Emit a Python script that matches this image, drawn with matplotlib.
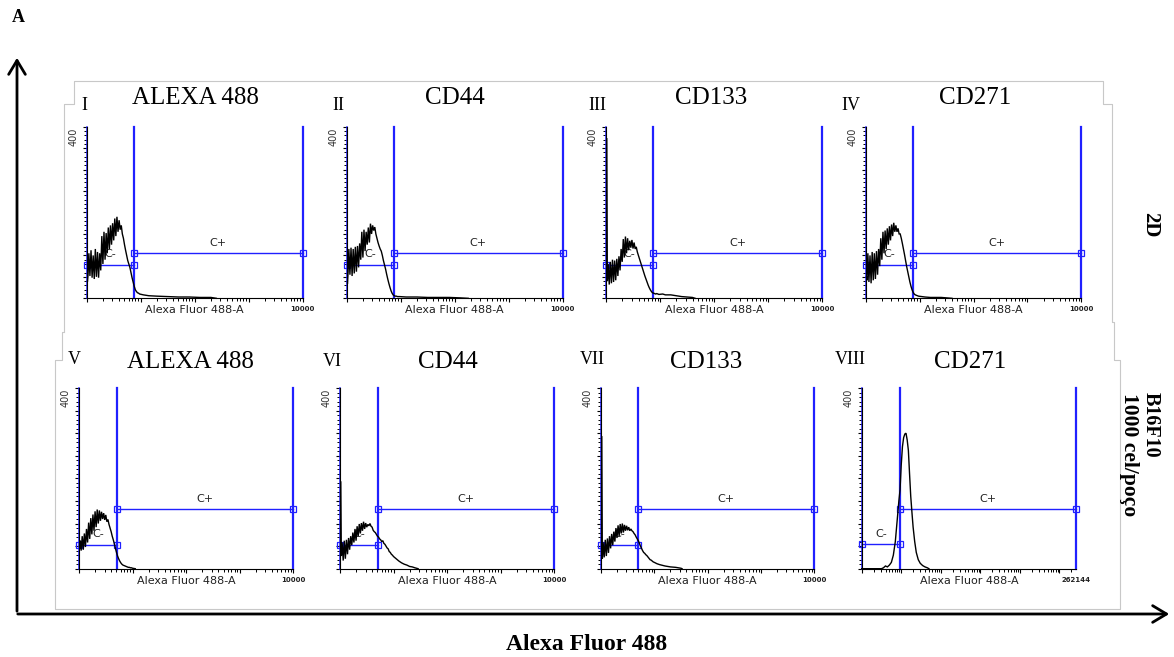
import numpy as np
import matplotlib
matplotlib.use("Agg")
import matplotlib.pyplot as plt
from matplotlib.lines import Line2D
from matplotlib.patches import FancyArrowPatch
from matplotlib.ticker import LogLocator, MultipleLocator, NullFormatter

# ------------------------------------------------------------------ data
panel_ids = ["I", "II", "III", "IV", "V", "VI", "VII", "VIII"]
markers = ["ALEXA 488", "CD44", "CD133", "CD271", "ALEXA 488", "CD44", "CD133", "CD271"]
x_end_labels = ["10000"] * 7 + ["262144"]
x_max = [10000, 10000, 10000, 10000, 10000, 10000, 10000, 262144]
y_max = 400

# channel positions (log10 of fluorescence) of the low-intensity part
channel_log = [0.015, 0.025, 0.04, 0.06, 0.08, 0.10, 0.12, 0.14, 0.16, 0.18,
               0.20, 0.22, 0.24, 0.26, 0.28, 0.30, 0.32, 0.34, 0.36, 0.38,
               0.40, 0.42, 0.44, 0.46, 0.48, 0.50, 0.52, 0.54, 0.56, 0.58,
               0.60, 0.62, 0.64, 0.66, 0.68, 0.70, 0.72, 0.74, 0.76, 0.78,
               0.80, 0.82, 0.84, 0.86, 0.88, 0.90, 0.92, 0.94, 0.96, 0.98]

counts_I = [40, 55, 105, 52, 112, 48, 100, 45, 115, 50, 108, 48, 105, 65, 145, 80, 155, 90, 152, 105,
            165, 115, 170, 125, 175, 135, 186, 145, 190, 155, 182, 160, 170, 150, 140, 125, 112, 100, 88, 80,
            72, 60, 48, 38, 28, 20, 16, 13, 12, 10]
tail_I_log = [1.05, 1.15, 1.3, 1.5, 1.7, 1.9, 2.1, 2.3, 2.4]
tail_I = [8, 6, 5, 4, 3, 3, 2, 2, 0]

counts_II = [35, 60, 115, 55, 118, 52, 115, 58, 120, 62, 122, 72, 128, 90, 155, 95, 160, 110, 155, 125,
             165, 130, 174, 150, 170, 158, 166, 150, 140, 130, 122, 115, 110, 100, 88, 78, 68, 56, 45, 35,
             26, 18, 12, 8, 6, 5, 5, 4, 4, 4]
tail_II_log = [1.1, 1.3, 1.5, 1.7, 1.9, 2.1, 2.25]
tail_II = [3, 3, 2, 2, 2, 1, 0]

counts_III = [372, 40, 80, 32, 85, 35, 90, 38, 88, 42, 92, 52, 98, 65, 115, 85, 138, 95, 144, 105,
              140, 112, 134, 118, 136, 116, 130, 115, 120, 108, 100, 92, 84, 76, 68, 60, 52, 45, 38, 31,
              25, 20, 16, 13, 12, 11, 10, 11, 10, 9]
tail_III_log = [1.05, 1.1, 1.2, 1.3, 1.4, 1.5, 1.6, 1.65]
tail_III = [10, 8, 8, 6, 4, 3, 2, 0]

counts_IV = [50, 42, 105, 38, 100, 35, 108, 42, 105, 45, 110, 55, 115, 75, 140, 90, 155, 105, 158, 115,
             163, 125, 168, 135, 172, 145, 176, 155, 170, 155, 163, 150, 150, 140, 128, 115, 102, 88, 74, 62,
             50, 38, 28, 20, 14, 10, 8, 7, 6, 5]
tail_IV_log = [1.1, 1.2, 1.4, 1.6]
tail_IV = [3, 2, 2, 0]

counts_V = [45, 62, 40, 72, 42, 78, 48, 88, 58, 102, 66, 112, 76, 120, 84, 127, 92, 131, 100, 129,
            106, 126, 110, 123, 108, 119, 104, 109, 98, 90, 82, 72, 64, 55, 45, 36, 28, 22, 17, 13,
            10, 8, 7, 6, 5, 4, 3, 3, 2, 2]
tail_V_log = [1.0, 1.05]
tail_V = [1, 0]

counts_VI = [192, 28, 58, 18, 62, 22, 64, 32, 68, 42, 72, 52, 80, 58, 88, 62, 94, 72, 99, 78,
             101, 84, 104, 88, 101, 92, 98, 95, 100, 94, 92, 85, 82, 80, 76, 72, 70, 66, 64, 60,
             62, 56, 54, 50, 46, 44, 38, 36, 32, 30]
tail_VI_log = [1.0, 1.05, 1.1, 1.15, 1.2, 1.25, 1.3, 1.35, 1.4, 1.46]
tail_VI = [27, 22, 17, 13, 10, 8, 5, 4, 2, 0]

counts_VII = [292, 22, 58, 25, 64, 28, 67, 35, 72, 45, 77, 52, 82, 60, 90, 68, 96, 72, 99, 78,
              100, 80, 97, 84, 95, 85, 92, 84, 88, 84, 82, 78, 75, 70, 66, 62, 56, 50, 45, 40,
              36, 34, 31, 29, 26, 23, 20, 19, 17, 15]
tail_VII_log = [1.0, 1.05, 1.1, 1.2, 1.3, 1.4, 1.5, 1.52]
tail_VII = [14, 11, 9, 6, 4, 3, 1, 0]

channel_VIII_log = [0.0, 0.5, 0.55, 0.6, 0.65, 0.7, 0.75, 0.8, 0.85, 0.88, 0.91, 0.94, 0.97, 1.0, 1.03, 1.06,
                    1.09, 1.12, 1.15, 1.18, 1.21, 1.24, 1.27, 1.30, 1.34, 1.38, 1.43, 1.48, 1.54, 1.60, 1.66, 1.7]
counts_VIII = [0, 0, 2, 6, 4, 8, 14, 30, 60, 90, 120, 150, 175, 230, 270, 290,
               298, 300, 285, 262, 210, 160, 125, 92, 60, 36, 20, 12, 7, 4, 2, 0]

# gates (log10 of the boundary between C- and C+, and bar heights in counts)
gate_mid_log = [0.87, 0.87, 0.87, 0.872, 0.709, 0.71, 0.70, 0.969]
cplus_y = [105, 105, 105, 105, 132, 132, 132, 132]
cminus_y = [78, 78, 78, 78, 53, 53, 53, 54]

hist_log = [channel_log + tail_I_log, channel_log + tail_II_log, channel_log + tail_III_log,
            channel_log + tail_IV_log, channel_log + tail_V_log, channel_log + tail_VI_log,
            channel_log + tail_VII_log, channel_VIII_log]
hist_counts = [counts_I + tail_I, counts_II + tail_II, counts_III + tail_III, counts_IV + tail_IV,
               counts_V + tail_V, counts_VI + tail_VI, counts_VII + tail_VII, counts_VIII]

# ------------------------------------------------------------------ layout (pixels)
W, H = 1174, 657
fig = plt.figure(figsize=(W / 100, H / 100), dpi=100)
fig.patch.set_facecolor("white")

def fx(x):
    return x / W

def fy(y):
    return 1 - y / H

rows = [(126.7, 298.3), (388.0, 568.7)]
lefts = [86.7, 346.7, 606.0, 865.7, 79.0, 340.0, 601.0, 861.7]
rights = [302.7, 562.7, 822.0, 1081.3, 293.3, 554.0, 814.3, 1076.0]
title_x = [195, 455, 711, 975, 190, 448, 706, 970]
title_y = [98, 98, 98, 98, 362.5, 362.5, 362.5, 362.5]
num_x = [81.5, 332.5, 588, 841.5, 68, 323, 580, 835]
num_y = [105, 105, 105, 105, 360, 361, 360, 360]

SERIF = "Liberation Serif"
SANS = "DejaVu Sans"
BLUE = "#2020ff"

# decorative grey panel borders
border = [(64, 331), (64, 104), (74, 104), (74, 81), (1103, 81), (1103, 104), (1112, 104),
          (1112, 322), (1114, 322), (1114, 360), (1120, 360), (1120, 609), (55, 609),
          (55, 360), (62, 360), (62, 332), (64, 332)]
fig.add_artist(Line2D([fx(p[0]) for p in border], [fy(p[1]) for p in border],
                      transform=fig.transFigure, color="#c8c8c8", lw=0.8))

for i in range(8):
    top, bot = rows[0] if i < 4 else rows[1]
    l, r = lefts[i], rights[i]
    ax = fig.add_axes([fx(l), fy(bot), (r - l) / W, (bot - top) / H])
    ax.set_facecolor("none")
    ax.set_xscale("log")
    ax.set_xlim(1, x_max[i])
    ax.set_ylim(0, y_max)
    for s in ["top", "right"]:
        ax.spines[s].set_visible(False)
    for s in ["left", "bottom"]:
        ax.spines[s].set_linewidth(0.8)
        ax.spines[s].set_color("black")
    ax.xaxis.set_major_locator(LogLocator(base=10, numticks=12))
    ax.xaxis.set_minor_locator(LogLocator(base=10, subs=np.arange(2, 10), numticks=12))
    ax.xaxis.set_major_formatter(NullFormatter())
    ax.xaxis.set_minor_formatter(NullFormatter())
    ax.yaxis.set_major_locator(MultipleLocator(50))
    ax.yaxis.set_minor_locator(MultipleLocator(10))
    ax.yaxis.set_major_formatter(NullFormatter())
    ax.tick_params(which="major", direction="out", length=3.2, width=0.8, color="black")
    ax.tick_params(which="minor", direction="out", length=2.2, width=0.7, color="black")

    gmid = 10 ** gate_mid_log[i]
    xm = x_max[i]
    # gate verticals
    ax.plot([1, 1], [0, y_max], color=BLUE, lw=1.1, clip_on=False, zorder=2)
    for xv in [gmid, xm]:
        ax.plot([xv, xv], [0, y_max], color=BLUE, lw=1.6, clip_on=False, zorder=2)
    # gate bars
    ax.plot([1, gmid], [cminus_y[i], cminus_y[i]], color=BLUE, lw=1.0, marker="s", ms=5,
            mfc="none", mec=BLUE, mew=0.9, clip_on=False, zorder=2)
    ax.plot([gmid, xm], [cplus_y[i], cplus_y[i]], color=BLUE, lw=1.0, marker="s", ms=5,
            mfc="none", mec=BLUE, mew=0.9, clip_on=False, zorder=2)
    ax.annotate("C+", (np.sqrt(gmid * xm), cplus_y[i]), xytext=(0, 4), textcoords="offset points",
                ha="center", va="bottom", fontsize=8, family=SANS, color="#222222", zorder=1)
    ax.annotate("C-", (np.sqrt(gmid), cminus_y[i]), xytext=(0, 4), textcoords="offset points",
                ha="center", va="bottom", fontsize=8, family=SANS, color="#222222", zorder=1)

    # histogram
    ax.plot(np.power(10.0, hist_log[i]), hist_counts[i], color="black", lw=1.0, zorder=3,
            clip_on=False, solid_joinstyle="miter")

    # texts
    fig.text(fx(l - 13.5), fy(top + 1), "400", rotation=90, ha="center", va="top",
             fontsize=7, family=SANS, color="#333333")
    fig.text(fx((l + r) / 2), fy(bot + 12), "Alexa Fluor 488-A", ha="center", va="center",
             fontsize=8, family=SANS, color="#222222")
    fig.text(fx(r), fy(bot + 11), x_end_labels[i], ha="center", va="center",
             fontsize=5, family=SANS, weight="bold", color="#222222")
    fig.text(fx(title_x[i]), fy(title_y[i]), markers[i], ha="center", va="center",
             fontsize=18, family=SERIF)
    fig.text(fx(num_x[i]), fy(num_y[i]), panel_ids[i], ha="left", va="center",
             fontsize=13, family=SERIF)

# outer arrows
fig.add_artist(FancyArrowPatch((fx(17), fy(614)), (fx(17), fy(55)), transform=fig.transFigure,
                               arrowstyle="->,head_length=0.5,head_width=0.3", mutation_scale=20,
                               lw=2.0, color="black"))
fig.add_artist(FancyArrowPatch((fx(15), fy(614)), (fx(1172), fy(614)), transform=fig.transFigure,
                               arrowstyle="->,head_length=0.5,head_width=0.3", mutation_scale=20,
                               lw=2.0, color="black"))

fig.text(fx(18), fy(18), "A", ha="center", va="center", fontsize=13, family=SERIF, weight="bold")
fig.text(fx(587), fy(645), "Alexa Fluor 488", ha="center", va="center", fontsize=17,
         family=SERIF, weight="bold")
fig.text(fx(1150), fy(225), "2D", rotation=270, ha="center", va="center", fontsize=15,
         family=SERIF, weight="bold")
fig.text(fx(1151), fy(425), "B16F10", rotation=270, ha="center", va="center", fontsize=14.5,
         family=SERIF, weight="bold")
fig.text(fx(1129), fy(455), "1000 cel/poço", rotation=270, ha="center", va="center",
         fontsize=15.5, family=SERIF, weight="bold")

fig.savefig("out.png", dpi=100, facecolor="white")
